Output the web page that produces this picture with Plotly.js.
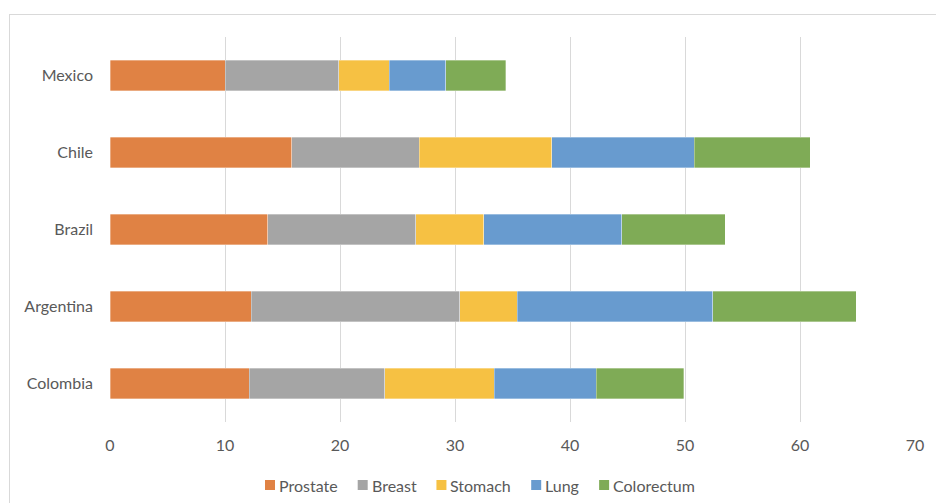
<!DOCTYPE html>
<html>
<head>
<meta charset="utf-8">
<script src="https://cdn.plot.ly/plotly-3.0.1.min.js"></script>
<style>
  html, body { margin: 0; padding: 0; background: #fff; overflow: hidden; }
  #chart { width: 936px; height: 503px; position: absolute; left: 0; top: 0; }
  #frame { position: absolute; left: 9px; top: 14px; width: 1000px; height: 600px;
           border: 1px solid #d9d9d9; pointer-events: none; }
</style>
</head>
<body>
<div id="chart"></div>
<div id="frame"></div>
<script>
// Countries, listed bottom to top
const countries = ['Colombia', 'Argentina', 'Brazil', 'Chile', 'Mexico'];

// Rates per cancer site, same order as countries
const prostate   = [12.1, 12.3, 13.7, 15.8, 10.0];
const breast     = [11.8, 18.1, 12.9, 11.1,  9.9];
const stomach    = [ 9.5,  5.0,  5.9, 11.5,  4.4];
const lung       = [ 8.9, 17.0, 12.0, 12.4,  4.9];
const colorectum = [ 7.6, 12.5,  9.0, 10.1,  5.2];

const seriesNames  = ['Prostate', 'Breast', 'Stomach', 'Lung', 'Colorectum'];
const seriesValues = [prostate, breast, stomach, lung, colorectum];
const seriesColors = ['#E08244', '#A5A5A5', '#F6C143', '#689BCF', '#7FAB56'];

const xTicks = [0, 10, 20, 30, 40, 50, 60, 70];

const fontFamily = 'Lato, "Open Sans", sans-serif';
const fontSize = 16;
const textColor = '#595959';

const W = 936, H = 503;
const margin = { l: 110, r: 21, t: 37, b: 81, pad: 0 };
const plotW = W - margin.l - margin.r;
const plotH = H - margin.t - margin.b;

const traces = seriesNames.map((name, i) => ({
  type: 'bar',
  orientation: 'h',
  name: name,
  y: countries,
  x: seriesValues[i],
  marker: { color: seriesColors[i], line: { color: 'rgba(255,255,255,0.55)', width: 0.6 } },
  hoverinfo: 'name+x'
}));

// Compact legend row under the axis: small square swatch, label right beside it
const measure = document.createElement('canvas').getContext('2d');
measure.font = fontSize + 'px Lato';
const swatch = 10, swatchGap = 4, entryGap = 20;
const textWidths = seriesNames.map(n => measure.measureText(n).width);
const rowWidth = textWidths.reduce((a, w) => a + w, 0) +
                 seriesNames.length * (swatch + swatchGap) + (seriesNames.length - 1) * entryGap;
const rowCenterPx = 480;          // horizontal centre of the legend row, in page pixels
const rowYPx = 485;               // vertical centre of the legend row, in page pixels
const toPaperX = px => (px - margin.l) / plotW;
const toPaperY = py => (H - margin.b - py) / plotH;

const legendShapes = [];
const legendLabels = [];
let cursor = rowCenterPx - rowWidth / 2;
seriesNames.forEach((name, i) => {
  legendShapes.push({
    type: 'rect', xref: 'paper', yref: 'paper',
    x0: toPaperX(cursor), x1: toPaperX(cursor + swatch),
    y0: toPaperY(rowYPx + swatch / 2), y1: toPaperY(rowYPx - swatch / 2),
    fillcolor: seriesColors[i], line: { width: 0 }, layer: 'above'
  });
  cursor += swatch + swatchGap;
  legendLabels.push({
    xref: 'paper', yref: 'paper', x: toPaperX(cursor - 1), y: toPaperY(rowYPx),
    xanchor: 'left', yanchor: 'middle', showarrow: false, text: name,
    font: { family: fontFamily, size: fontSize, color: textColor }, borderpad: 0
  });
  cursor += textWidths[i] + entryGap;
});

const layout = {
  width: W,
  height: H,
  paper_bgcolor: '#ffffff',
  plot_bgcolor: '#ffffff',
  barmode: 'stack',
  bargap: 0.6,
  margin: Object.assign({ autoexpand: false }, margin),
  font: { family: fontFamily, size: fontSize, color: textColor },
  xaxis: {
    range: [0, 70],
    tickvals: xTicks,
    ticktext: xTicks.map(String),
    showgrid: true,
    gridcolor: '#d9d9d9',
    gridwidth: 1,
    zeroline: false,
    showline: false,
    ticks: '',
    ticklabelstandoff: 12,
    tickfont: { family: fontFamily, size: fontSize, color: textColor },
    fixedrange: true
  },
  yaxis: {
    type: 'category',
    categoryorder: 'array',
    categoryarray: countries,
    showgrid: false,
    zeroline: false,
    showline: false,
    ticks: '',
    ticklabelstandoff: 16,
    tickfont: { family: fontFamily, size: fontSize, color: textColor },
    fixedrange: true
  },
  shapes: legendShapes,
  annotations: legendLabels,
  showlegend: false
};

Plotly.newPlot('chart', traces, layout, { displayModeBar: false, staticPlot: true });
</script>
</body>
</html>
